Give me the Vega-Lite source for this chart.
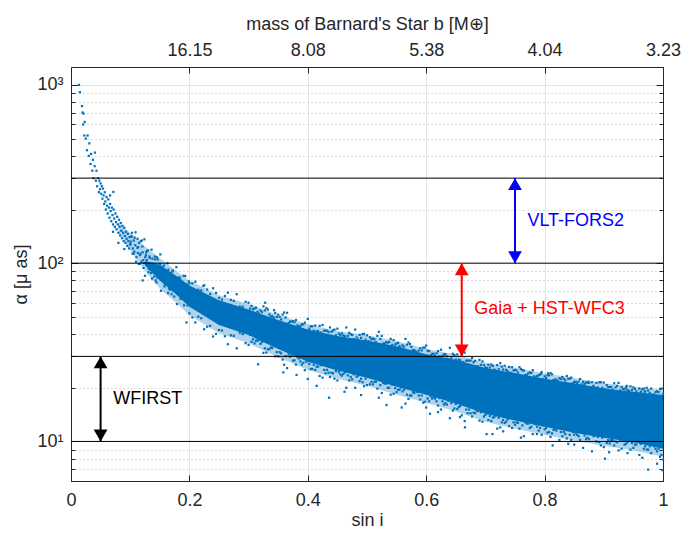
{
"$schema": "https://vega.github.io/schema/vega-lite/v6.json",
"width": 592, "height": 414,
"autosize": {"type": "none"},
"padding": {"left": 71, "top": 67, "right": 31, "bottom": 52},
"background": "white",
"config": {
  "view": {"stroke": "#262626", "strokeWidth": 1},
  "axis": {"labelFont": "Liberation Sans", "labelFontSize": 18, "labelColor": "#262626", "titleFont": "Liberation Sans", "titleFontSize": 18, "titleFontWeight": "normal", "titleColor": "#262626", "domainColor": "#262626", "tickColor": "#262626", "labelOverlap": false, "labelFlush": false}
},
"datasets": {
  "halo": [
    {"s":0.08,"lo":150,"hi":168},{"s":0.10,"lo":118,"hi":148},{"s":0.13,"lo":86,"hi":120},{"s":0.15,"lo":72,"hi":107},{"s":0.175,"lo":61,"hi":92},{"s":0.20,"lo":51,"hi":80},{"s":0.25,"lo":40.5,"hi":66},{"s":0.30,"lo":35.5,"hi":59},{"s":0.35,"lo":29.7,"hi":51.4},{"s":0.40,"lo":25.2,"hi":45.5},{"s":0.45,"lo":22.5,"hi":41.7},{"s":0.50,"lo":20.5,"hi":39.4},{"s":0.55,"lo":18.3,"hi":36.6},{"s":0.60,"lo":16.5,"hi":33},{"s":0.65,"lo":14.7,"hi":30.7},{"s":0.70,"lo":12.9,"hi":27.6},{"s":0.75,"lo":11.8,"hi":25.9},{"s":0.80,"lo":10.9,"hi":24.1},{"s":0.85,"lo":10.1,"hi":22.7},{"s":0.90,"lo":9.45,"hi":21.2},{"s":0.95,"lo":8.9,"hi":20.3},{"s":1.00,"lo":8.2,"hi":19.5}
  ],
  "core": [
    {"s":0.125,"lo":97,"hi":103},{"s":0.15,"lo":80,"hi":98},{"s":0.175,"lo":68,"hi":86},{"s":0.20,"lo":57,"hi":75},{"s":0.25,"lo":45,"hi":62},{"s":0.30,"lo":39.5,"hi":55},{"s":0.35,"lo":33,"hi":48},{"s":0.40,"lo":28,"hi":42.5},{"s":0.45,"lo":25,"hi":39},{"s":0.50,"lo":22.8,"hi":36.8},{"s":0.55,"lo":20.3,"hi":34.2},{"s":0.60,"lo":18.3,"hi":30.8},{"s":0.65,"lo":16.3,"hi":28.7},{"s":0.70,"lo":14.3,"hi":25.8},{"s":0.75,"lo":13.1,"hi":24.2},{"s":0.80,"lo":12.1,"hi":22.5},{"s":0.85,"lo":11.2,"hi":21.2},{"s":0.90,"lo":10.5,"hi":19.8},{"s":0.95,"lo":9.9,"hi":19.0},{"s":1.00,"lo":9.1,"hi":18.2}
  ],
  "cloud": [
    {"s":0.0135,"a":1000},{"s":0.015,"a":910},{"s":0.0185,"a":760},{"s":0.0195,"a":700},{"s":0.021,"a":690},{"s":0.0205,"a":600},{"s":0.023,"a":620},{"s":0.0225,"a":520},{"s":0.025,"a":500},{"s":0.027,"a":430},{"s":0.028,"a":520},{"s":0.030,"a":400},{"s":0.031,"a":470},{"s":0.033,"a":360},{"s":0.034,"a":410},{"s":0.036,"a":330},{"s":0.037,"a":380},{"s":0.038,"a":300},{"s":0.040,"a":350},{"s":0.0405,"a":417},{"s":0.042,"a":290},{"s":0.043,"a":330},{"s":0.044,"a":270},{"s":0.046,"a":300},{"s":0.047,"a":250},{"s":0.048,"a":290},{"s":0.049,"a":260},
    {"s":0.050,"a":280},{"s":0.051,"a":245},{"s":0.052,"a":270},{"s":0.053,"a":230},{"s":0.054,"a":262},{"s":0.055,"a":240},{"s":0.056,"a":215},{"s":0.057,"a":250},{"s":0.058,"a":222},{"s":0.059,"a":200},{"s":0.060,"a":235},{"s":0.061,"a":210},{"s":0.062,"a":190},{"s":0.063,"a":228},{"s":0.064,"a":205},{"s":0.065,"a":180},{"s":0.066,"a":215},{"s":0.067,"a":196},{"s":0.068,"a":172},{"s":0.069,"a":205},{"s":0.070,"a":186},{"s":0.071,"a":165},{"s":0.072,"a":200},{"s":0.073,"a":178},{"s":0.074,"a":160},{"s":0.075,"a":190},{"s":0.076,"a":170},{"s":0.077,"a":155},{"s":0.078,"a":182},{"s":0.079,"a":165},{"s":0.080,"a":148},{"s":0.081,"a":175},{"s":0.082,"a":160},{"s":0.083,"a":143},{"s":0.084,"a":168},{"s":0.085,"a":152},{"s":0.086,"a":138},{"s":0.087,"a":162},{"s":0.088,"a":148},{"s":0.089,"a":133},{"s":0.090,"a":158},{"s":0.091,"a":142},{"s":0.092,"a":130},{"s":0.093,"a":150},{"s":0.094,"a":137},{"s":0.095,"a":125},{"s":0.096,"a":146},{"s":0.097,"a":133},{"s":0.098,"a":121},{"s":0.099,"a":140},{"s":0.100,"a":128},{"s":0.0715,"a":251},{"s":0.066,"a":240},{"s":0.071,"a":150},{"s":0.080,"a":130},{"s":0.090,"a":120},
    {"s":0.101,"a":132},{"s":0.103,"a":148},{"s":0.104,"a":113},{"s":0.106,"a":134},{"s":0.107,"a":116},{"s":0.109,"a":149},{"s":0.110,"a":102},{"s":0.112,"a":122},{"s":0.113,"a":114},{"s":0.115,"a":130},{"s":0.116,"a":99},{"s":0.118,"a":133},{"s":0.119,"a":102},{"s":0.121,"a":115},{"s":0.122,"a":104},{"s":0.124,"a":136},{"s":0.125,"a":85},{"s":0.127,"a":115},{"s":0.128,"a":104},{"s":0.130,"a":118},{"s":0.131,"a":89},{"s":0.133,"a":107},{"s":0.134,"a":92},{"s":0.136,"a":119},{"s":0.137,"a":82},{"s":0.139,"a":99},{"s":0.140,"a":92},{"s":0.142,"a":105},{"s":0.143,"a":80},{"s":0.145,"a":108},{"s":0.146,"a":83},{"s":0.148,"a":94},{"s":0.149,"a":85},{"s":0.151,"a":112},{"s":0.152,"a":70},{"s":0.154,"a":95},{"s":0.155,"a":86},{"s":0.157,"a":97},{"s":0.158,"a":74},{"s":0.160,"a":89},{"s":0.161,"a":77},{"s":0.163,"a":100},{"s":0.164,"a":68},{"s":0.166,"a":83},{"s":0.167,"a":77},{"s":0.169,"a":88},{"s":0.170,"a":67},{"s":0.172,"a":91},{"s":0.173,"a":70},{"s":0.175,"a":80},{"s":0.176,"a":72},{"s":0.178,"a":95},{"s":0.179,"a":59},{"s":0.181,"a":81},{"s":0.182,"a":73},{"s":0.184,"a":83},{"s":0.185,"a":63},{"s":0.187,"a":76},{"s":0.188,"a":66},{"s":0.190,"a":85},{"s":0.191,"a":58},{"s":0.193,"a":71},{"s":0.194,"a":67},{"s":0.196,"a":76},{"s":0.197,"a":58},{"s":0.199,"a":79},
    {"s":0.1015,"a":141},{"s":0.1045,"a":121},{"s":0.1075,"a":139},{"s":0.1105,"a":108},{"s":0.1135,"a":123},{"s":0.1165,"a":111},{"s":0.1195,"a":134},{"s":0.1225,"a":94},{"s":0.1255,"a":108},{"s":0.1285,"a":117},{"s":0.1315,"a":93},{"s":0.1345,"a":99},{"s":0.1375,"a":106},{"s":0.1405,"a":84},{"s":0.1435,"a":96},{"s":0.1465,"a":105},{"s":0.1495,"a":84},{"s":0.1525,"a":89},{"s":0.1555,"a":93},{"s":0.1585,"a":76},{"s":0.1615,"a":82},{"s":0.1645,"a":92},{"s":0.1675,"a":71},{"s":0.1705,"a":81},{"s":0.1735,"a":74},{"s":0.1765,"a":83},{"s":0.1795,"a":68},{"s":0.1825,"a":74},{"s":0.1855,"a":80},{"s":0.1885,"a":64},{"s":0.1915,"a":73},{"s":0.1945,"a":66},{"s":0.1975,"a":73},{"s":0.121,"a":80},{"s":0.195,"a":46.5},{"s":0.193,"a":84.7},{"s":0.2235,"a":74.5},{"s":0.328,"a":60},
    {"s":0.1005,"a":127},{"s":0.1025,"a":141},{"s":0.1055,"a":113},{"s":0.1085,"a":126},{"s":0.1125,"a":137},{"s":0.1145,"a":99},{"s":0.1175,"a":113},{"s":0.1205,"a":124},{"s":0.1235,"a":100},{"s":0.1265,"a":111},{"s":0.1295,"a":99},{"s":0.1325,"a":109},{"s":0.1355,"a":88},{"s":0.1385,"a":99},{"s":0.1415,"a":109},{"s":0.1445,"a":78},{"s":0.1475,"a":90},{"s":0.1505,"a":99},{"s":0.1535,"a":81},{"s":0.1565,"a":90},{"s":0.1595,"a":80},{"s":0.1625,"a":89},{"s":0.1655,"a":72},{"s":0.1685,"a":81},{"s":0.1715,"a":90},{"s":0.1745,"a":65},{"s":0.1775,"a":75},{"s":0.1805,"a":83},{"s":0.1835,"a":67},{"s":0.1865,"a":76},{"s":0.1895,"a":67},{"s":0.1925,"a":75},{"s":0.1955,"a":61},{"s":0.1985,"a":69},
    {"s":0.20,"a":77.0},{"s":0.21,"a":78.7},{"s":0.22,"a":70.4},{"s":0.23,"a":71.2},{"s":0.24,"a":72.3},{"s":0.25,"a":63.9},{"s":0.26,"a":65.4},{"s":0.27,"a":62.2},{"s":0.28,"a":67.0},{"s":0.29,"a":57.0},{"s":0.30,"a":60.0},{"s":0.31,"a":55.7},{"s":0.32,"a":54.3},{"s":0.33,"a":55.9},{"s":0.34,"a":50.4},{"s":0.35,"a":51.4},{"s":0.36,"a":52.9},{"s":0.37,"a":47.0},{"s":0.38,"a":48.0},{"s":0.39,"a":45.4},{"s":0.40,"a":48.7},{"s":0.41,"a":41.8},{"s":0.42,"a":44.5},{"s":0.43,"a":41.8},{"s":0.44,"a":41.2},{"s":0.45,"a":42.9},{"s":0.46,"a":39.3},{"s":0.47,"a":40.7},{"s":0.48,"a":42.4},{"s":0.49,"a":38.1},{"s":0.50,"a":39.4},{"s":0.51,"a":37.8},{"s":0.52,"a":41.2},{"s":0.53,"a":35.4},{"s":0.54,"a":37.6},{"s":0.55,"a":35.4},{"s":0.56,"a":34.6},{"s":0.57,"a":35.9},{"s":0.58,"a":32.5},{"s":0.59,"a":33.4},{"s":0.60,"a":34.5},{"s":0.61,"a":31.0},{"s":0.62,"a":32.1},{"s":0.63,"a":30.8},{"s":0.64,"a":33.5},{"s":0.65,"a":28.8},{"s":0.66,"a":30.4},{"s":0.67,"a":28.4},{"s":0.68,"a":27.8},{"s":0.69,"a":28.7},{"s":0.70,"a":26.0},{"s":0.71,"a":27.0},{"s":0.72,"a":26.8},{"s":0.73,"a":25.3},{"s":0.74,"a":26.2},{"s":0.75,"a":25.2},{"s":0.76,"a":25.5},{"s":0.77,"a":23.6},{"s":0.78,"a":25.1},{"s":0.79,"a":23.5},{"s":0.80,"a":23.2},{"s":0.81,"a":24.2},{"s":0.82,"a":22.2},{"s":0.83,"a":23.0},{"s":0.84,"a":22.5},{"s":0.85,"a":21.6},{"s":0.86,"a":22.4},{"s":0.87,"a":21.4},{"s":0.88,"a":21.5},{"s":0.89,"a":20.1},{"s":0.90,"a":21.4},{"s":0.91,"a":20.2},{"s":0.92,"a":20.1},{"s":0.93,"a":20.2},{"s":0.94,"a":19.4},{"s":0.95,"a":20.1},{"s":0.96,"a":19.8},{"s":0.97,"a":19.1},{"s":0.98,"a":19.8},{"s":0.99,"a":19.1},{"s":1.00,"a":18.4},
    {"s":0.20,"a":52.3},{"s":0.21,"a":46.5},{"s":0.22,"a":49.1},{"s":0.23,"a":44.0},{"s":0.24,"a":38.8},{"s":0.25,"a":42.2},{"s":0.26,"a":38.9},{"s":0.27,"a":39.4},{"s":0.28,"a":33.3},{"s":0.29,"a":40.0},{"s":0.30,"a":34.8},{"s":0.31,"a":35.5},{"s":0.32,"a":35.3},{"s":0.33,"a":31.5},{"s":0.34,"a":33.4},{"s":0.35,"a":30.0},{"s":0.36,"a":26.9},{"s":0.37,"a":29.8},{"s":0.38,"a":27.0},{"s":0.39,"a":27.0},{"s":0.40,"a":22.4},{"s":0.41,"a":26.9},{"s":0.42,"a":23.3},{"s":0.43,"a":24.1},{"s":0.44,"a":24.3},{"s":0.45,"a":22.0},{"s":0.46,"a":23.9},{"s":0.47,"a":22.0},{"s":0.48,"a":20.0},{"s":0.49,"a":22.5},{"s":0.50,"a":20.7},{"s":0.51,"a":20.9},{"s":0.52,"a":17.6},{"s":0.53,"a":21.1},{"s":0.54,"a":18.3},{"s":0.55,"a":18.9},{"s":0.56,"a":19.1},{"s":0.57,"a":17.3},{"s":0.58,"a":18.7},{"s":0.59,"a":17.2},{"s":0.60,"a":15.5},{"s":0.61,"a":17.4},{"s":0.62,"a":15.9},{"s":0.63,"a":16.1},{"s":0.64,"a":13.5},{"s":0.65,"a":16.2},{"s":0.66,"a":14.0},{"s":0.67,"a":14.4},{"s":0.68,"a":14.5},{"s":0.69,"a":13.1},{"s":0.70,"a":14.1},{"s":0.71,"a":13.0},{"s":0.72,"a":11.8},{"s":0.73,"a":13.2},{"s":0.74,"a":12.2},{"s":0.75,"a":12.4},{"s":0.76,"a":10.5},{"s":0.77,"a":12.6},{"s":0.78,"a":11.0},{"s":0.79,"a":11.5},{"s":0.80,"a":11.7},{"s":0.81,"a":10.6},{"s":0.82,"a":11.5},{"s":0.83,"a":10.7},{"s":0.84,"a":9.7},{"s":0.85,"a":10.9},{"s":0.86,"a":10.2},{"s":0.87,"a":10.3},{"s":0.88,"a":8.8},{"s":0.89,"a":10.6},{"s":0.90,"a":9.3},{"s":0.91,"a":9.75},{"s":0.92,"a":10.0},{"s":0.93,"a":9.1},{"s":0.94,"a":9.9},{"s":0.95,"a":9.2},{"s":0.96,"a":8.4},{"s":0.97,"a":9.4},{"s":0.98,"a":8.6},{"s":0.99,"a":8.8},{"s":1.00,"a":7.9},
    {"s":0.205,"a":77.1},{"s":0.215,"a":71.0},{"s":0.225,"a":75.2},{"s":0.235,"a":67.2},{"s":0.245,"a":68.0},{"s":0.255,"a":62.5},{"s":0.265,"a":68.3},{"s":0.275,"a":61.4},{"s":0.285,"a":57.1},{"s":0.295,"a":60.7},{"s":0.305,"a":57.6},{"s":0.315,"a":53.4},{"s":0.325,"a":57.2},{"s":0.335,"a":51.6},{"s":0.345,"a":52.6},{"s":0.355,"a":48.3},{"s":0.365,"a":52.7},{"s":0.375,"a":47.3},{"s":0.385,"a":43.8},{"s":0.395,"a":46.4},{"s":0.405,"a":44.2},{"s":0.415,"a":41.5},{"s":0.425,"a":45.0},{"s":0.435,"a":41.1},{"s":0.445,"a":42.4},{"s":0.455,"a":39.5},{"s":0.465,"a":43.6},{"s":0.475,"a":39.6},{"s":0.485,"a":37.3},{"s":0.495,"a":40.1},{"s":0.505,"a":38.4},{"s":0.515,"a":36.1},{"s":0.525,"a":39.1},{"s":0.535,"a":35.8},{"s":0.545,"a":37.0},{"s":0.555,"a":34.3},{"s":0.565,"a":37.6},{"s":0.575,"a":33.9},{"s":0.585,"a":31.6},{"s":0.595,"a":33.6},{"s":0.605,"a":32.1},{"s":0.615,"a":30.2},{"s":0.625,"a":32.7},{"s":0.635,"a":30.0},{"s":0.645,"a":31.0},{"s":0.655,"a":28.8},{"s":0.665,"a":31.5},{"s":0.675,"a":28.4},{"s":0.685,"a":26.4},{"s":0.695,"a":28.1},{"s":0.705,"a":26.9},{"s":0.715,"a":25.3},{"s":0.725,"a":27.5},{"s":0.735,"a":25.2},{"s":0.745,"a":26.1},{"s":0.755,"a":24.3},{"s":0.765,"a":25.0},{"s":0.775,"a":24.4},{"s":0.785,"a":22.8},{"s":0.795,"a":24.5},{"s":0.805,"a":23.5},{"s":0.815,"a":22.1},{"s":0.825,"a":22.6},{"s":0.835,"a":22.0},{"s":0.845,"a":22.8},{"s":0.855,"a":21.3},{"s":0.865,"a":21.6},{"s":0.875,"a":21.3},{"s":0.885,"a":20.0},{"s":0.895,"a":21.5},{"s":0.905,"a":20.7},{"s":0.915,"a":19.5},{"s":0.925,"a":21.3},{"s":0.935,"a":19.6},{"s":0.945,"a":20.4},{"s":0.955,"a":19.1},{"s":0.965,"a":19.6},{"s":0.975,"a":19.3},{"s":0.985,"a":18.3},{"s":0.995,"a":19.7},
    {"s":0.205,"a":49.6},{"s":0.215,"a":50.1},{"s":0.225,"a":42.6},{"s":0.235,"a":44.5},{"s":0.245,"a":40.1},{"s":0.255,"a":41.9},{"s":0.265,"a":35.1},{"s":0.275,"a":39.1},{"s":0.285,"a":40.8},{"s":0.295,"a":35.6},{"s":0.305,"a":36.2},{"s":0.315,"a":36.8},{"s":0.325,"a":31.4},{"s":0.335,"a":33.0},{"s":0.345,"a":30.0},{"s":0.355,"a":31.2},{"s":0.365,"a":25.8},{"s":0.375,"a":28.4},{"s":0.385,"a":29.2},{"s":0.395,"a":25.1},{"s":0.405,"a":25.5},{"s":0.415,"a":26.3},{"s":0.425,"a":22.8},{"s":0.435,"a":24.3},{"s":0.445,"a":22.5},{"s":0.455,"a":23.8},{"s":0.465,"a":20.0},{"s":0.475,"a":22.3},{"s":0.485,"a":23.4},{"s":0.495,"a":20.4},{"s":0.505,"a":20.9},{"s":0.515,"a":21.6},{"s":0.525,"a":18.7},{"s":0.535,"a":20.0},{"s":0.545,"a":18.5},{"s":0.555,"a":19.5},{"s":0.565,"a":16.3},{"s":0.575,"a":18.1},{"s":0.585,"a":18.9},{"s":0.595,"a":16.5},{"s":0.605,"a":16.8},{"s":0.615,"a":17.4},{"s":0.625,"a":15.1},{"s":0.635,"a":16.1},{"s":0.645,"a":14.9},{"s":0.655,"a":15.6},{"s":0.665,"a":13.0},{"s":0.675,"a":14.4},{"s":0.685,"a":14.9},{"s":0.695,"a":12.9},{"s":0.705,"a":13.2},{"s":0.715,"a":13.7},{"s":0.725,"a":12.0},{"s":0.735,"a":12.9},{"s":0.745,"a":11.9},{"s":0.755,"a":12.7},{"s":0.765,"a":10.7},{"s":0.775,"a":11.9},{"s":0.785,"a":12.5},{"s":0.795,"a":10.9},{"s":0.805,"a":11.2},{"s":0.815,"a":11.6},{"s":0.825,"a":10.2},{"s":0.835,"a":11.0},{"s":0.845,"a":10.2},{"s":0.855,"a":10.9},{"s":0.865,"a":9.2},{"s":0.875,"a":10.3},{"s":0.885,"a":10.8},{"s":0.895,"a":9.5},{"s":0.905,"a":9.8},{"s":0.915,"a":10.2},{"s":0.925,"a":8.9},{"s":0.935,"a":9.6},{"s":0.945,"a":9.0},{"s":0.955,"a":9.6},{"s":0.965,"a":8.1},{"s":0.975,"a":9.0},{"s":0.985,"a":9.4},{"s":0.995,"a":8.2},
    {"s":0.3025,"a":55.6},{"s":0.3125,"a":56.3},{"s":0.3225,"a":53.2},{"s":0.3325,"a":54.9},{"s":0.3425,"a":49.4},{"s":0.3525,"a":49.9},{"s":0.3625,"a":49.6},{"s":0.3725,"a":47.0},{"s":0.3825,"a":44.8},{"s":0.3925,"a":45.4},{"s":0.4025,"a":42.8},{"s":0.4125,"a":44.7},{"s":0.4225,"a":40.8},{"s":0.4325,"a":41.8},{"s":0.4425,"a":42.0},{"s":0.4525,"a":40.2},{"s":0.4625,"a":38.9},{"s":0.4725,"a":39.9},{"s":0.4825,"a":38.3},{"s":0.4925,"a":40.0},{"s":0.5025,"a":36.5},{"s":0.5125,"a":37.4},{"s":0.5225,"a":37.6},{"s":0.5325,"a":36.1},{"s":0.5425,"a":34.8},{"s":0.5525,"a":35.7},{"s":0.5625,"a":34.0},{"s":0.5725,"a":35.2},{"s":0.5825,"a":31.9},{"s":0.5925,"a":32.4},{"s":0.6025,"a":32.3},{"s":0.6125,"a":31.0},{"s":0.6225,"a":30.0},{"s":0.6325,"a":30.8},{"s":0.6425,"a":29.5},{"s":0.6525,"a":30.8},{"s":0.6625,"a":27.9},{"s":0.6725,"a":28.4},{"s":0.6825,"a":28.3},{"s":0.6925,"a":26.9},{"s":0.7025,"a":25.8},{"s":0.7125,"a":26.5},{"s":0.7225,"a":25.4},{"s":0.7325,"a":26.6},{"s":0.7425,"a":24.3},{"s":0.7525,"a":25.0},{"s":0.7625,"a":25.1},{"s":0.7725,"a":24.1},{"s":0.7825,"a":23.2},{"s":0.7925,"a":23.7},{"s":0.8025,"a":22.7},{"s":0.8125,"a":23.8},{"s":0.8225,"a":21.8},{"s":0.8325,"a":22.4},{"s":0.8425,"a":22.5},{"s":0.8525,"a":21.6},{"s":0.8625,"a":20.9},{"s":0.8725,"a":21.4},{"s":0.8825,"a":20.5},{"s":0.8925,"a":21.5},{"s":0.9025,"a":19.6},{"s":0.9125,"a":20.2},{"s":0.9225,"a":20.5},{"s":0.9325,"a":19.7},{"s":0.9425,"a":19.2},{"s":0.9525,"a":19.7},{"s":0.9625,"a":19.0},{"s":0.9725,"a":20.0},{"s":0.9825,"a":18.3},{"s":0.9925,"a":18.9},
    {"s":0.3025,"a":39.6},{"s":0.3125,"a":36.7},{"s":0.3225,"a":36.1},{"s":0.3325,"a":32.9},{"s":0.3425,"a":34.4},{"s":0.3525,"a":31.7},{"s":0.3625,"a":30.1},{"s":0.3725,"a":30.4},{"s":0.3825,"a":29.7},{"s":0.3925,"a":27.6},{"s":0.4025,"a":27.2},{"s":0.4125,"a":25.2},{"s":0.4225,"a":26.8},{"s":0.4325,"a":25.2},{"s":0.4425,"a":24.1},{"s":0.4525,"a":24.5},{"s":0.4625,"a":24.4},{"s":0.4725,"a":23.0},{"s":0.4825,"a":23.1},{"s":0.4925,"a":21.5},{"s":0.5025,"a":23.0},{"s":0.5125,"a":21.6},{"s":0.5225,"a":20.7},{"s":0.5325,"a":21.1},{"s":0.5425,"a":20.8},{"s":0.5525,"a":19.5},{"s":0.5625,"a":19.5},{"s":0.5725,"a":18.1},{"s":0.5825,"a":19.3},{"s":0.5925,"a":18.1},{"s":0.6025,"a":17.4},{"s":0.6125,"a":17.7},{"s":0.6225,"a":17.5},{"s":0.6325,"a":16.4},{"s":0.6425,"a":16.4},{"s":0.6525,"a":15.2},{"s":0.6625,"a":16.1},{"s":0.6725,"a":15.1},{"s":0.6825,"a":14.4},{"s":0.6925,"a":14.6},{"s":0.7025,"a":14.4},{"s":0.7125,"a":13.6},{"s":0.7225,"a":13.6},{"s":0.7325,"a":12.7},{"s":0.7425,"a":13.55},{"s":0.7525,"a":12.8},{"s":0.7625,"a":12.3},{"s":0.7725,"a":12.6},{"s":0.7825,"a":12.6},{"s":0.7925,"a":11.9},{"s":0.8025,"a":11.9},{"s":0.8125,"a":11.1},{"s":0.8225,"a":11.9},{"s":0.8325,"a":11.3},{"s":0.8425,"a":10.9},{"s":0.8525,"a":11.2},{"s":0.8625,"a":11.2},{"s":0.8725,"a":10.5},{"s":0.8825,"a":10.7},{"s":0.8925,"a":9.9},{"s":0.9025,"a":10.7},{"s":0.9125,"a":10.2},{"s":0.9225,"a":9.9},{"s":0.9325,"a":10.1},{"s":0.9425,"a":10.1},{"s":0.9525,"a":9.6},{"s":0.9625,"a":9.7},{"s":0.9725,"a":9.0},{"s":0.9825,"a":9.6},{"s":0.9925,"a":9.1},
    {"s":0.3075,"a":55.2},{"s":0.3175,"a":52.2},{"s":0.3275,"a":54.4},{"s":0.3375,"a":50.4},{"s":0.3475,"a":49.9},{"s":0.3575,"a":51.5},{"s":0.3675,"a":46.1},{"s":0.3775,"a":46.6},{"s":0.3875,"a":44.5},{"s":0.3975,"a":42.0},{"s":0.4075,"a":44.3},{"s":0.4175,"a":41.6},{"s":0.4275,"a":41.8},{"s":0.4375,"a":43.6},{"s":0.4475,"a":39.4},{"s":0.4575,"a":40.4},{"s":0.4675,"a":39.1},{"s":0.4775,"a":37.5},{"s":0.4875,"a":39.6},{"s":0.4975,"a":37.2},{"s":0.5075,"a":37.4},{"s":0.5175,"a":39.1},{"s":0.5275,"a":35.4},{"s":0.5375,"a":36.2},{"s":0.5475,"a":35.0},{"s":0.5575,"a":33.3},{"s":0.5675,"a":34.9},{"s":0.5775,"a":32.5},{"s":0.5875,"a":32.4},{"s":0.5975,"a":33.6},{"s":0.6075,"a":30.4},{"s":0.6175,"a":31.2},{"s":0.6275,"a":30.2},{"s":0.6375,"a":28.9},{"s":0.6475,"a":30.5},{"s":0.6575,"a":28.5},{"s":0.6675,"a":28.4},{"s":0.6775,"a":29.4},{"s":0.6875,"a":26.4},{"s":0.6975,"a":26.8},{"s":0.7075,"a":26.0},{"s":0.7175,"a":24.9},{"s":0.7275,"a":26.3},{"s":0.7375,"a":24.8},{"s":0.7475,"a":25.0},{"s":0.7575,"a":26.1},{"s":0.7675,"a":23.6},{"s":0.7775,"a":24.2},{"s":0.7875,"a":23.3},{"s":0.7975,"a":22.3},{"s":0.8075,"a":23.5},{"s":0.8175,"a":22.2},{"s":0.8275,"a":22.4},{"s":0.8375,"a":23.3},{"s":0.8475,"a":21.2},{"s":0.8575,"a":21.7},{"s":0.8675,"a":21.0},{"s":0.8775,"a":20.1},{"s":0.8875,"a":21.3},{"s":0.8975,"a":20.0},{"s":0.9075,"a":20.2},{"s":0.9175,"a":21.2},{"s":0.9275,"a":19.3},{"s":0.9375,"a":20.0},{"s":0.9475,"a":19.4},{"s":0.9575,"a":18.6},{"s":0.9675,"a":19.8},{"s":0.9775,"a":18.7},{"s":0.9875,"a":18.9},{"s":0.9975,"a":19.8},
    {"s":0.3075,"a":37.4},{"s":0.3175,"a":37.2},{"s":0.3275,"a":33.3},{"s":0.3375,"a":33.7},{"s":0.3475,"a":31.7},{"s":0.3575,"a":28.8},{"s":0.3675,"a":30.7},{"s":0.3775,"a":28.5},{"s":0.3875,"a":28.1},{"s":0.3975,"a":28.0},{"s":0.4075,"a":25.5},{"s":0.4175,"a":26.3},{"s":0.4275,"a":25.2},{"s":0.4375,"a":23.0},{"s":0.4475,"a":24.8},{"s":0.4575,"a":23.4},{"s":0.4675,"a":23.5},{"s":0.4775,"a":23.8},{"s":0.4875,"a":21.8},{"s":0.4975,"a":22.5},{"s":0.5075,"a":21.6},{"s":0.5175,"a":19.8},{"s":0.5275,"a":21.3},{"s":0.5375,"a":20.0},{"s":0.5475,"a":19.9},{"s":0.5575,"a":20.1},{"s":0.5675,"a":18.3},{"s":0.5775,"a":18.9},{"s":0.5875,"a":18.1},{"s":0.5975,"a":16.7},{"s":0.6075,"a":17.9},{"s":0.6175,"a":16.8},{"s":0.6275,"a":16.8},{"s":0.6375,"a":16.9},{"s":0.6475,"a":15.3},{"s":0.6575,"a":15.8},{"s":0.6675,"a":15.1},{"s":0.6775,"a":13.8},{"s":0.6875,"a":14.8},{"s":0.6975,"a":13.8},{"s":0.7075,"a":13.9},{"s":0.7175,"a":14.0},{"s":0.7275,"a":12.8},{"s":0.7375,"a":13.3},{"s":0.7475,"a":12.8},{"s":0.7575,"a":11.8},{"s":0.7675,"a":12.8},{"s":0.7775,"a":12.1},{"s":0.7875,"a":12.1},{"s":0.7975,"a":12.3},{"s":0.8075,"a":11.3},{"s":0.8175,"a":11.7},{"s":0.8275,"a":11.3},{"s":0.8375,"a":10.4},{"s":0.8475,"a":11.3},{"s":0.8575,"a":10.7},{"s":0.8675,"a":10.8},{"s":0.8775,"a":11.0},{"s":0.8875,"a":10.0},{"s":0.8975,"a":10.5},{"s":0.9075,"a":10.2},{"s":0.9175,"a":9.5},{"s":0.9275,"a":10.2},{"s":0.9375,"a":9.7},{"s":0.9475,"a":9.8},{"s":0.9575,"a":10.0},{"s":0.9675,"a":9.1},{"s":0.9775,"a":9.4},{"s":0.9875,"a":9.1},{"s":0.9975,"a":8.4},
    {"s":0.3587,"a":24.4},{"s":0.381,"a":23.6},{"s":0.436,"a":17.6},{"s":0.415,"a":20.5},{"s":0.533,"a":16.0},{"s":0.5586,"a":15.5},{"s":0.6064,"a":14.3},{"s":0.657,"a":13.7},{"s":0.316,"a":27.1},{"s":0.343,"a":54.5},{"s":0.578,"a":32},{"s":0.558,"a":32.3},{"s":0.6655,"a":12.0},{"s":0.702,"a":11.0},{"s":0.712,"a":11.0},{"s":0.787,"a":11.0},{"s":0.8136,"a":9.5},{"s":0.902,"a":8.0},{"s":0.975,"a":6.95},{"s":0.806,"a":24.1},{"s":0.794,"a":24.0},{"s":0.874,"a":21.6},{"s":0.9386,"a":20.5},{"s":0.969,"a":19.0},{"s":0.999,"a":6.9},{"s":0.909,"a":8.7},{"s":0.636,"a":28.7},{"s":0.672,"a":26.3},{"s":0.462,"a":19.0},{"s":0.49,"a":18.2},{"s":0.62,"a":14.6},{"s":0.73,"a":11.4},{"s":0.85,"a":9.6},{"s":0.94,"a":8.6},{"s":0.99,"a":7.5}
  ],
  "levels": [{"a":10},{"a":30},{"a":100},{"a":300}],
  "arrows": [
    {"s":0.05,"lo":10,"hi":30,"c":"WFIRST","lx":0.0715,"ly":17.3},
    {"s":0.66,"lo":30,"hi":100,"c":"Gaia + HST-WFC3","lx":0.681,"ly":55},
    {"s":0.75,"lo":100,"hi":300,"c":"VLT-FORS2","lx":0.771,"ly":172}
  ]
},
"layer": [
  {"layer": [
    {"data": {"name": "halo"},
     "mark": {"type": "area", "color": "#0072BD", "opacity": 0.3},
     "encoding": {
       "x": {"field": "s", "type": "quantitative", "scale": {"domain": [0, 1], "nice": false, "zero": false},
             "axis": {"orient": "bottom", "values": [0, 0.2, 0.4, 0.6, 0.8, 1], "format": "~g", "title": "sin i", "grid": true, "gridColor": "#E3E3E3", "tickSize": -6, "labelPadding": 16, "titlePadding": 2}},
       "y": {"field": "lo", "type": "quantitative", "scale": {"type": "log", "domain": [6, 1260], "nice": false},
             "axis": {"orient": "left", "values": [6,7,8,9,10,20,30,40,50,60,70,80,90,100,200,300,400,500,600,700,800,900,1000],
                      "labelExpr": "datum.value==1000?'10³':datum.value==100?'10²':datum.value==10?'10¹':''",
                      "grid": true,
                      "gridDash": {"condition": {"test": "datum.value==10||datum.value==100||datum.value==1000", "value": []}, "value": [1, 3]},
                      "gridColor": {"condition": {"test": "datum.value==10||datum.value==100||datum.value==1000", "value": "#E3E3E3"}, "value": "#BDBDBD"},
                      "tickSize": {"condition": {"test": "datum.value==10||datum.value==100||datum.value==1000", "value": -7}, "value": -4},
                      "labelPadding": 15, "title": "α [μ as]", "titlePadding": 6}},
       "y2": {"field": "hi"}
     }},
    {"data": {"name": "core"},
     "mark": {"type": "area", "color": "#0072BD", "opacity": 1},
     "encoding": {
       "x": {"field": "s", "type": "quantitative"},
       "y": {"field": "lo", "type": "quantitative"},
       "y2": {"field": "hi"}
     }},
    {"data": {"name": "cloud"},
     "mark": {"type": "square", "size": 5, "color": "#0072BD", "opacity": 1},
     "encoding": {
       "x": {"field": "s", "type": "quantitative"},
       "y": {"field": "a", "type": "quantitative"}
     }},
    {"data": {"name": "levels"},
     "mark": {"type": "rule", "color": "#000000", "strokeWidth": 1},
     "encoding": {"y": {"field": "a", "type": "quantitative"}}},
    {"data": {"name": "arrows"},
     "mark": {"type": "point", "shape": "triangle-up", "size": 190, "filled": true, "opacity": 1, "yOffset": 6},
     "encoding": {
       "x": {"field": "s", "type": "quantitative"},
       "y": {"field": "hi", "type": "quantitative"},
       "color": {"field": "c", "type": "nominal", "scale": {"domain": ["WFIRST", "Gaia + HST-WFC3", "VLT-FORS2"], "range": ["#000000", "#FF0000", "#0000FF"]}, "legend": null}
     }},
    {"data": {"name": "arrows"},
     "mark": {"type": "point", "shape": "triangle-down", "size": 190, "filled": true, "opacity": 1, "yOffset": -6},
     "encoding": {
       "x": {"field": "s", "type": "quantitative"},
       "y": {"field": "lo", "type": "quantitative"},
       "color": {"field": "c", "type": "nominal", "legend": null}
     }},
    {"data": {"name": "arrows"},
     "mark": {"type": "text", "align": "left", "baseline": "middle", "font": "Liberation Sans", "fontSize": 18},
     "encoding": {
       "x": {"field": "lx", "type": "quantitative"},
       "y": {"field": "ly", "type": "quantitative"},
       "text": {"field": "c"},
       "color": {"field": "c", "type": "nominal", "legend": null}
     }}
  ]},
  {"data": {"name": "arrows"},
   "mark": {"type": "rule", "strokeWidth": 2},
   "encoding": {
     "x": {"field": "s", "type": "quantitative", "scale": {"domain": [0, 1], "nice": false, "zero": false},
           "axis": {"orient": "top", "values": [0.2, 0.4, 0.6, 0.8, 1], "labelExpr": "datum.value==0.2?'16.15':datum.value==0.4?'8.08':datum.value==0.6?'5.38':datum.value==0.8?'4.04':'3.23'", "grid": false, "tickSize": -6, "labelPadding": 14, "title": "mass of Barnard's Star b [M⊕]", "titlePadding": 8}},
     "y": {"field": "lo", "type": "quantitative", "scale": {"type": "log", "domain": [6, 1260], "nice": false},
           "axis": {"orient": "right", "values": [6,7,8,9,10,20,30,40,50,60,70,80,90,100,200,300,400,500,600,700,800,900,1000], "labels": false, "grid": false, "title": null,
                    "tickSize": {"condition": {"test": "datum.value==10||datum.value==100||datum.value==1000", "value": -7}, "value": -4}}},
     "y2": {"field": "hi"},
     "color": {"field": "c", "type": "nominal", "legend": null}
   }}
],
"resolve": {"scale": {"x": "independent", "y": "independent"}}
}
